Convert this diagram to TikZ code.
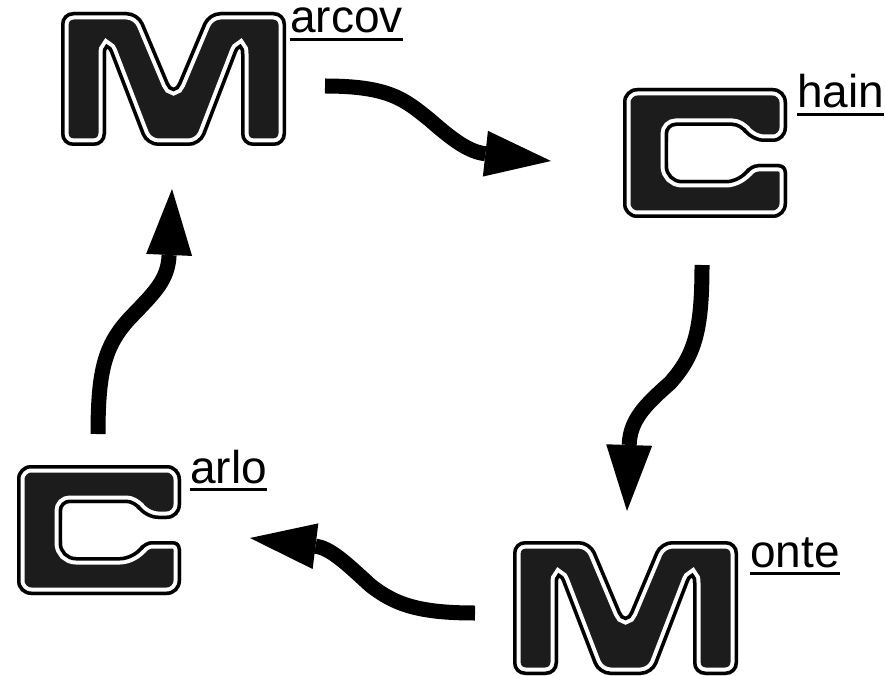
\documentclass[tikz,border=0pt]{standalone}
\usepackage{fontspec}
\setmainfont{Liberation Sans}
\usetikzlibrary{arrows.meta}
\definecolor{letterfill}{HTML}{1C1C1C}
\newcommand{\layered}[2]{%
  \begin{scope}[rounded corners=#1]
    \clip #2;
    \fill[letterfill] #2;
    \draw[white, line width=15pt] #2;
    \draw[black, line width=7pt] #2;
  \end{scope}}
\newcommand{\bigM}[1]{\begin{scope}[shift={#1}]
  \layered{12pt}{(0,67) -- (0,0) -- (78,0) -- (112.5,82) -- (147,0) -- (225,0) -- (225,134) -- (180,134) -- (180,30) -- (140,134) -- (85,134) -- (45,30) -- (45,134) -- (0,134) -- cycle}
  \end{scope}}
\newcommand{\bigC}[1]{\begin{scope}[shift={#1}]
  \layered{14pt}{(0,65) -- (0,0) -- (164,0) -- (164,54) -- (127,54) [rounded corners=8pt] -- (117,38) -- (45,38) [rounded corners=14pt] -- (45,92) -- (117,92) [rounded corners=8pt] -- (127,76) -- (164,76) [rounded corners=14pt] -- (164,130) -- (0,130) -- cycle}
  \end{scope}}
\begin{document}
\begin{tikzpicture}[x=1pt,y=-1pt,
  arr/.style={line width=15pt, -{Triangle[length=66pt,width=46pt,line width=0pt]}},
  lbl/.style={anchor=base west, inner sep=0pt, font=\fontsize{46}{55}\selectfont},
  ul/.style={line width=3pt}]
\useasboundingbox (0,0) rectangle (885,676);
\fill[white] (0,0) rectangle (885,676);

% big letters
\bigM{(61,12)}
\bigC{(623,88)}
\bigM{(513,541)}
\bigC{(17,465)}

% labels
\node[lbl, text height=0.55em] (tmarcov) at (290,33) {arcov};
\node[lbl] (tchain) at (797,108) {hain};
\node[lbl] (tmonte) at (750,567) {onte};
\node[lbl] (tcarlo) at (190,483) {arlo};
\foreach \n in {tmarcov,tchain,tmonte,tcarlo}{
  \draw[ul] ([yshift=-6.5pt]\n.base west) -- ([yshift=-6.5pt]\n.base east);
}

% arrow ends
\coordinate (a1s) at (325,86);  \coordinate (a1e) at (551,161);
\coordinate (a2s) at (702,265); \coordinate (a2e) at (627,511);
\coordinate (a3s) at (475,613); \coordinate (a3e) at (250,538);
\coordinate (a4s) at (98,434);  \coordinate (a4e) at (172,189);

\draw[arr] (a1s) .. controls (390,86) and (405,100) .. (430,120) .. controls (455,142) and (470,152) .. (a1e);
\draw[arr] (a2s) .. controls (702,330) and (695,355) .. (670,383) .. controls (645,405) and (630,420) .. (a2e);
\draw[arr] (a3s) .. controls (420,613) and (395,605) .. (370,585) .. controls (345,562) and (330,548) .. (a3e);
\draw[arr] (a4s) .. controls (98,370) and (105,345) .. (130,318) .. controls (155,292) and (168,280) .. (a4e);
\end{tikzpicture}
\end{document}
